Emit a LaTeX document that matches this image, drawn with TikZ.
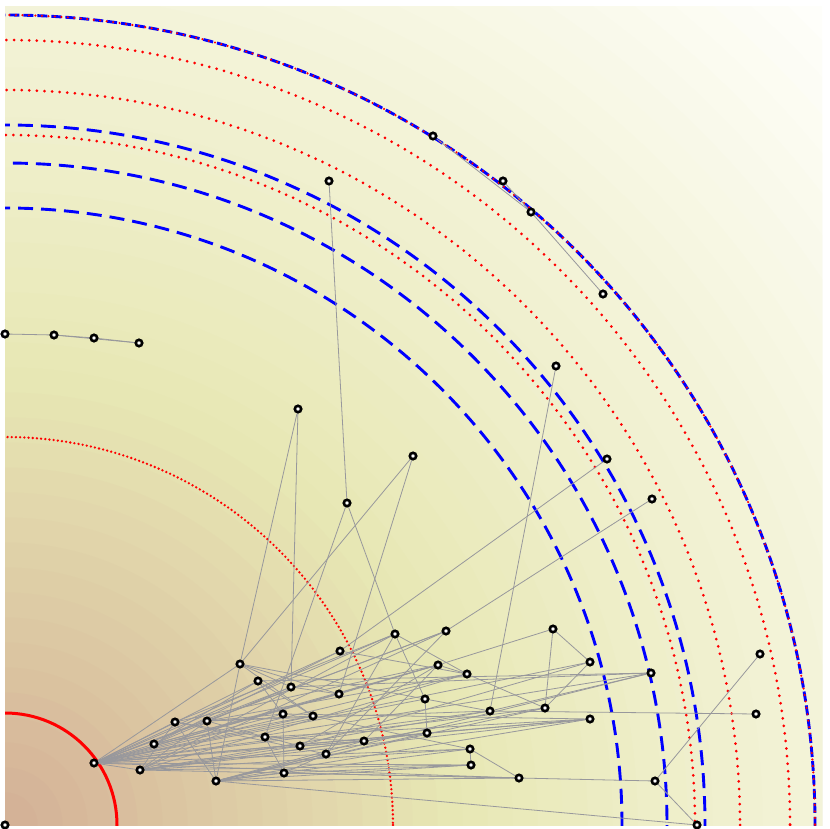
\documentclass[tikz,border=0pt]{standalone}
\usetikzlibrary{calc}
\pgfdeclarelayer{bg}
\pgfdeclarelayer{edges}
\pgfsetlayers{bg,edges,main}
\begin{document}
\begin{tikzpicture}[x=1pt,y=-1pt,
  vtx/.style={circle,draw=black,fill=white,line width=2.6pt,inner sep=0pt,minimum size=6.4pt},
  edge/.style={draw={rgb,255:red,152;green,152;blue,156},line width=0.8pt},
  redsolid/.style={draw=red,line width=3pt},
  reddots/.style={draw=red,line width=3pt,line cap=round,dash pattern=on 0pt off 7.6pt},
  reddotsfine/.style={draw=red,line width=2.6pt,line cap=round,dash pattern=on 0pt off 4.2pt},
  bluedash/.style={draw=blue,line width=2.9pt,dash pattern=on 15pt off 8pt},
  bluedashfine/.style={draw=blue,line width=2.9pt,dash pattern=on 10pt off 4pt},
]
\useasboundingbox (0,0) rectangle (830,829);
\coordinate (O) at (5,825);
% nodes
\foreach \i/\x/\y in {1/5/825,2/94/763,3/140/770,4/154/744,5/175/722,6/207/721,7/216/781,
  8/240/664,9/258/681,10/265/737,11/283/714,12/291/687,13/284/773,14/300/746,15/313/716,
  16/326/754,17/339/694,18/340/651,19/364/741,20/395/634,21/425/699,22/427/733,23/438/665,
  24/446/631,25/467/674,26/470/749,27/471/765,28/490/711,29/519/778,30/545/708,31/553/629,
  32/590/662,33/590/719,34/651/673,35/655/781,36/697/825,37/756/714,38/760/654,39/298/409,
  40/347/503,41/413/456,42/329/181,43/556/366,44/607/459,45/652/499,46/5/334,47/54/335,
  48/94/338,49/139/343,50/433/136,51/503/181,52/531/212,53/603/294}{
  \node[vtx] (n\i) at (\x,\y) {};
}
\begin{pgfonlayer}{bg}
\begin{scope}
\clip (5,7) rectangle (822,825);
\foreach \r in {1170,1145,...,0}{
  \pgfmathsetmacro{\t}{\r}
  \ifdim \t pt > 450pt
    \pgfmathtruncatemacro{\cr}{232+23*((\t-450)/710)}
    \pgfmathtruncatemacro{\cg}{232+23*((\t-450)/710)}
    \pgfmathtruncatemacro{\cb}{181+71*((\t-450)/710)}
  \else
    \pgfmathtruncatemacro{\cr}{212+20*(\t/450)}
    \pgfmathtruncatemacro{\cg}{176+56*(\t/450)}
    \pgfmathtruncatemacro{\cb}{150+31*(\t/450)}
  \fi
  \definecolor{bgc}{RGB}{\cr,\cg,\cb}
  \fill[bgc] (O) circle[radius=\r+12.5];
}
% arcs
\draw[redsolid] (O) circle[radius=112];
\draw[reddotsfine] (O) circle[radius=388];
\draw[bluedash] (O) circle[radius=617];
\draw[bluedash] (O) circle[radius=662];
\draw[reddots] (O) circle[radius=690];
\draw[bluedash] (O) circle[radius=700];
\draw[reddots] (O) circle[radius=735];
\draw[reddots] (O) circle[radius=785];
\draw[bluedashfine] (O) circle[radius=810];
\draw[draw=red,line width=2.4pt,line cap=round,dash pattern=on 0pt off 6.5pt] (O) circle[radius=810];
\end{scope}
\end{pgfonlayer}
% edges
\begin{pgfonlayer}{edges}
\foreach \a/\b in {50/52,51/52,52/53,46/47,47/48,48/49,47/49,42/40,40/20,40/10,39/8,39/12,
  41/8,41/17,43/28,44/18,45/24,35/36,35/38,29/35,7/36,28/37,
  2/3,2/4,2/5,2/6,2/8,2/9,2/11,2/12,2/15,2/17,2/18,2/20,2/21,2/22,2/23,2/24,2/25,2/28,
  2/30,2/32,2/33,2/34,2/19,2/26,2/27,2/29,
  3/6,3/5,3/14,3/19,3/26,3/27,3/22,3/20,3/24,3/25,3/28,3/33,3/29,
  7/6,7/5,7/8,7/13,7/27,7/26,7/33,7/22,7/19,7/16,7/30,7/29,7/34,
  4/9,4/12,4/17,4/18,4/23,4/15,5/10,5/16,5/20,5/23,6/10,6/15,6/11,6/24,6/25,6/28,
  8/12,8/15,8/17,8/21,9/15,9/11,10/14,10/13,10/19,11/13,12/17,13/16,14/19,16/20,18/25,19/22,23/25,23/19,
  14/23,16/24,17/23,15/26,13/27,11/33,12/34,14/32,22/33,19/30,13/29,20/25,
  31/30,31/32,31/23,32/30,25/30,21/22,21/28,26/27,26/29,20/21,34/28,33/10,34/9}{
  \path[edge] (n\a) -- (n\b);
}
\end{pgfonlayer}
\end{tikzpicture}
\end{document}
